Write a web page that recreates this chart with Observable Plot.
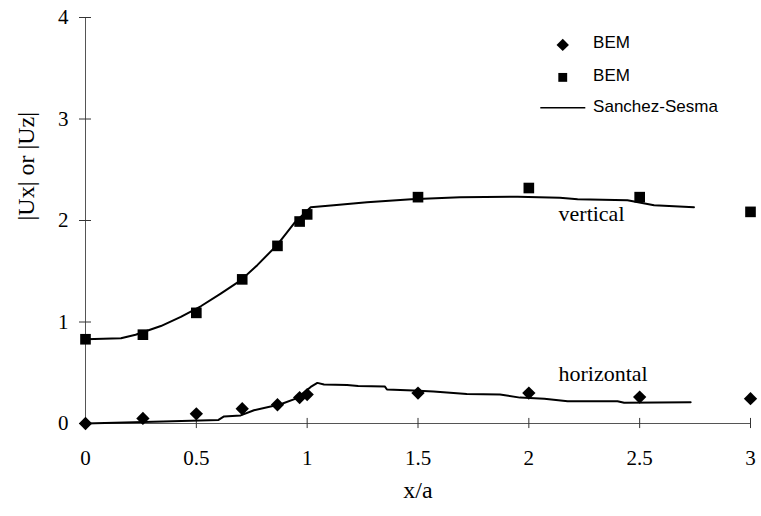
<!DOCTYPE html>
<html>
<head>
<meta charset="utf-8">
<script src="https://cdn.jsdelivr.net/npm/d3@7"></script>
<script src="https://cdn.jsdelivr.net/npm/@observablehq/plot@0.6"></script>
<style>
  html, body { margin: 0; padding: 0; background: #fff; }
</style>
</head>
<body>
<div id="chart"></div>
<script>
// ---- data ----
const xTicks = [0, 0.5, 1, 1.5, 2, 2.5, 3];
const yTicks = [0, 1, 2, 3, 4];

const bemX = [0, 0.259, 0.5, 0.707, 0.866, 0.966, 1, 1.5, 2, 2.5, 3];
const bemVertical = [0.83, 0.875, 1.09, 1.42, 1.75, 1.99, 2.06, 2.23, 2.32, 2.23, 2.085];
const bemHorizontal = [0.0, 0.05, 0.095, 0.145, 0.185, 0.255, 0.285, 0.30, 0.30, 0.26, 0.245];

const ssVx = [0, 0.16, 0.226, 0.34, 0.43, 0.52, 0.61, 0.70, 0.775, 0.865, 0.94, 1.016, 1.12, 1.27, 1.47, 1.69, 1.95, 2.14, 2.22, 2.445, 2.565, 2.745];
const ssVy = [0.83, 0.84, 0.875, 0.96, 1.05, 1.155, 1.28, 1.41, 1.56, 1.76, 1.97, 2.13, 2.15, 2.18, 2.21, 2.23, 2.235, 2.225, 2.21, 2.20, 2.15, 2.13];

const ssHx = [0, 0.35, 0.60, 0.625, 0.70, 0.76, 0.88, 0.955, 1.016, 1.046, 1.076, 1.18, 1.23, 1.35, 1.36, 1.48, 1.57, 1.72, 1.87, 1.96, 2.07, 2.175, 2.40, 2.43, 2.73];
const ssHy = [0, 0.02, 0.035, 0.07, 0.08, 0.13, 0.19, 0.25, 0.36, 0.40, 0.385, 0.38, 0.37, 0.365, 0.335, 0.325, 0.315, 0.29, 0.285, 0.255, 0.245, 0.22, 0.22, 0.205, 0.21];

const legendLabels = ["BEM", "BEM", "Sanchez-Sesma"];
const curveLabels = ["vertical", "horizontal"];
const xLabel = "x/a";
const yLabel = "|Ux| or |Uz|";

// ---- tables ----
const bemV = bemX.map((x, i) => ({x, y: bemVertical[i]}));
const bemH = bemX.map((x, i) => ({x, y: bemHorizontal[i]}));
const ssV = ssVx.map((x, i) => ({x, y: ssVy[i]}));
const ssH = ssHx.map((x, i) => ({x, y: ssHy[i]}));

// legend / annotation placement (data space)
const legSymX = 2.153, legTextX = 2.29;
const legendSyms = [
  {x: legSymX, y: 3.73, s: "diamond2", r: 5.6},
  {x: legSymX, y: 3.41, s: "square", r: 5}
];
const legendTexts = legendLabels.map((t, i) => ({t, x: legTextX, y: [3.75, 3.43, 3.12][i]}));
const legendLine = [{x1: 2.054, x2: 2.257, y: 3.11}];
const curveText = curveLabels.map((t, i) => ({t, x: 2.134, y: [2.06, 0.49][i]}));

const serif = "'Liberation Serif', 'Times New Roman', serif";
const sans = "'Liberation Sans', Arial, sans-serif";

const chart = Plot.plot({
  width: 761,
  height: 516,
  marginLeft: 85,
  marginRight: 11,
  marginTop: 17,
  marginBottom: 93,
  style: {fontFamily: serif, fontSize: "21px", color: "#000", background: "#fff"},
  x: {domain: [0, 3]},
  y: {domain: [0, 4]},
  r: {type: "identity"},
  symbol: {type: "identity"},
  marks: [
    Plot.axisX(xTicks, {tickSize: 0, tickPadding: 27, label: null, fontSize: 21, tickFormat: d => String(d)}),
    Plot.axisY(yTicks, {tickSize: 0, tickPadding: 17, label: null, fontSize: 21, tickFormat: d => String(d)}),
    // axis lines
    Plot.ruleX([0], {y1: 0, y2: 4, stroke: "#555", strokeWidth: 1}),
    Plot.ruleY([0], {x1: 0, x2: 3, stroke: "#555", strokeWidth: 1}),
    // crossing ticks
    Plot.ruleX(xTicks, {y1: -0.05, y2: 0.05, stroke: "#333", strokeWidth: 1}),
    Plot.ruleY(yTicks, {x1: -0.027, x2: 0.027, stroke: "#333", strokeWidth: 1}),
    // Sanchez-Sesma curves
    Plot.line(ssV, {x: "x", y: "y", stroke: "#000", strokeWidth: 2}),
    Plot.line(ssH, {x: "x", y: "y", stroke: "#000", strokeWidth: 2}),
    // BEM points
    Plot.dot(bemV, {x: "x", y: "y", symbol: "square", r: 6, fill: "#000", stroke: "none"}),
    Plot.dot(bemH, {x: "x", y: "y", symbol: "diamond2", r: 6, fill: "#000", stroke: "none"}),
    // curve annotations
    Plot.text(curveText, {x: "x", y: "y", text: "t", textAnchor: "start", fontSize: 22, fontFamily: serif, fill: "#000"}),
    // legend
    Plot.dot(legendSyms, {x: "x", y: "y", symbol: "s", r: "r", fill: "#000", stroke: "none"}),
    Plot.ruleY(legendLine, {x1: "x1", x2: "x2", y: "y", stroke: "#000", strokeWidth: 1.5}),
    Plot.text(legendTexts, {x: "x", y: "y", text: "t", textAnchor: "start", fontSize: 17, fontFamily: sans, fill: "#000"}),
    // axis titles
    Plot.text([xLabel], {frameAnchor: "bottom", dy: 74, fontSize: 24, fontFamily: serif, fill: "#000"}),
    Plot.text([yLabel], {frameAnchor: "left", dx: -59, rotate: -90, fontSize: 24, fontFamily: serif, fill: "#000"})
  ]
});

document.getElementById("chart").appendChild(chart);
</script>
</body>
</html>
